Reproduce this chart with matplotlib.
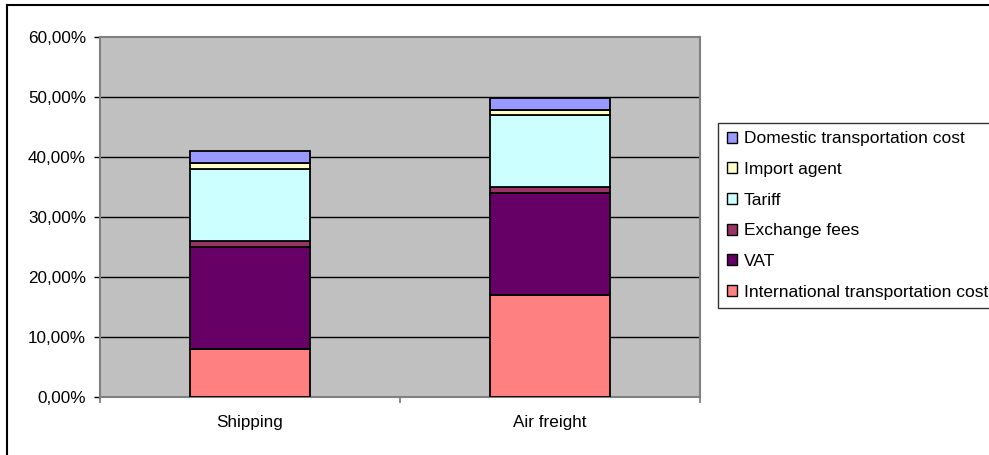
import matplotlib
matplotlib.use("Agg")
import matplotlib.pyplot as plt
from matplotlib.patches import Patch
from matplotlib.lines import Line2D
from matplotlib.ticker import FuncFormatter, FixedLocator
import numpy as np

plt.rcParams['font.family'] = ['Liberation Sans', 'DejaVu Sans']

categories = ["Shipping", "Air freight"]
series_names = ["International transportation cost", "VAT", "Exchange fees",
                "Tariff", "Import agent", "Domestic transportation cost"]
intl = [8.0, 17.0]
vat = [17.0, 17.0]
exchange = [1.0, 1.0]
tariff = [12.0, 12.0]
import_agent = [1.0, 0.9]
domestic = [2.0, 1.9]
series_values = [intl, vat, exchange, tariff, import_agent, domestic]
colors = ["#FF8080", "#660066", "#993366", "#CCFFFF", "#FFFFCC", "#9999FF"]
yticks = [0, 10, 20, 30, 40, 50, 60]

W, H = 989, 455
fig = plt.figure(figsize=(W / 100, H / 100), dpi=100)
ax = fig.add_axes([100 / W, 1 - 396.7 / H, 600 / W, (396.7 - 37) / H])
ax.set_facecolor("#C0C0C0")

x = np.arange(len(categories))
bottom = np.zeros(len(categories))
for name, vals, c in zip(series_names, series_values, colors):
    ax.bar(x, vals, width=0.4, bottom=bottom, color=c, edgecolor="black",
           linewidth=1.3, label=name, zorder=3)
    bottom += np.array(vals)

ax.set_xlim(-0.5, 1.5)
ax.set_ylim(0, 60)
ax.set_yticks(yticks)
ax.yaxis.set_major_formatter(FuncFormatter(lambda v, p: f"{v:.2f}%".replace(".", ",")))
for yv in yticks[1:-1]:
    ax.axhline(yv, color="black", linewidth=1.0, zorder=1)

ax.set_xticks(x)
ax.set_xticklabels(categories)
ax.xaxis.set_minor_locator(FixedLocator([-0.5, 0.5, 1.5]))
ax.tick_params(axis="x", which="major", length=0, pad=13.5, labelsize=12.3)
ax.tick_params(axis="x", which="minor", length=4, width=1.3, color="#808080")
ax.tick_params(axis="y", which="major", length=4, width=1.0, color="black",
               pad=6, labelsize=12.3)
for s in ax.spines.values():
    s.set_color("#808080")
    s.set_linewidth(1.5)

handles = [Patch(facecolor=c, edgecolor="black", linewidth=1.0) for c in colors]
leg = fig.legend(handles[::-1], series_names[::-1], loc="upper left",
                 bbox_to_anchor=(718 / W, 1 - 122.7 / H), fontsize=12.5,
                 frameon=True, fancybox=False, handlelength=0.6, handleheight=0.6,
                 handletextpad=0.4, labelspacing=0.9, borderpad=0.5,
                 borderaxespad=0)
leg.get_frame().set_edgecolor("black")
leg.get_frame().set_linewidth(1.0)

fig.add_artist(Line2D([7 / W, 1.0], [1 - 5 / H, 1 - 5 / H], transform=fig.transFigure,
                      color="black", linewidth=1.5))
fig.add_artist(Line2D([7 / W, 7 / W], [0, 1 - 5 / H], transform=fig.transFigure,
                      color="black", linewidth=1.5))

fig.savefig("out.png", dpi=100)
